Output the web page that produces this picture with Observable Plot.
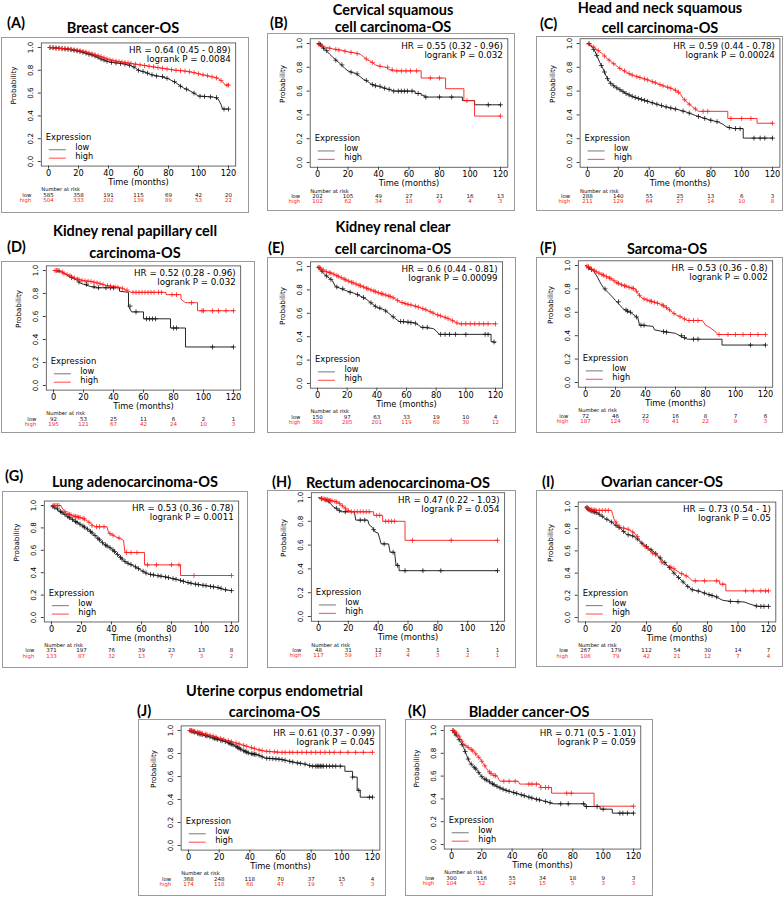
<!DOCTYPE html>
<html><head><meta charset="utf-8">
<script src="https://cdn.jsdelivr.net/npm/d3@7"></script>
<script src="https://cdn.jsdelivr.net/npm/@observablehq/plot@0.6"></script>
<style>
body{margin:0;background:#fff}
#root{position:relative;width:784px;height:898px;overflow:hidden;background:#fff}
.box{position:absolute;box-sizing:border-box;border:1px solid #9a9a9a;pointer-events:none}
.plotwrap{position:absolute}
#titles{position:absolute;left:0;top:0}
</style></head>
<body><div id="root"></div>
<script>
const xTicks = [0, 20, 40, 60, 80, 100, 120];
const yTicks = [0, 0.2, 0.4, 0.6, 0.8, 1];

// (A) Breast cancer
const breastStats = ["HR = 0.64 (0.45 - 0.89)", "logrank P = 0.0084"];
const breastRiskLow = [585, 358, 191, 115, 69, 42, 20];
const breastRiskHigh = [504, 333, 202, 139, 89, 53, 22];
const breastLow = [[0,1],[5,0.995],[10,0.99],[15,0.98],[20,0.968],[25,0.95],[30,0.93],[35,0.90],[40,0.875],[45,0.865],[50,0.857],[55,0.84],[58,0.82],[60,0.80],[65,0.78],[70,0.755],[75,0.745],[80,0.725],[85,0.69],[90,0.645],[95,0.615],[100,0.575],[105,0.57],[110,0.565],[113,0.55],[115,0.50],[116,0.46],[120,0.46]];
const breastLowCens = [[1,1],[3,0.998],[5,0.995],[7,0.993],[9,0.99],[11,0.988],[13,0.985],[15,0.98],[17,0.975],[19,0.97],[21,0.965],[23,0.958],[25,0.95],[27,0.94],[29,0.935],[31,0.925],[33,0.915],[35,0.90],[37,0.89],[39,0.88],[42,0.87],[45,0.865],[48,0.86],[51,0.855],[54,0.845],[57,0.83],[60,0.80],[63,0.79],[66,0.775],[69,0.76],[72,0.75],[76,0.745],[79,0.73],[84,0.70],[88,0.66],[92,0.635],[97,0.60],[101,0.572],[104,0.57],[108,0.567],[112,0.56],[117,0.46],[120,0.46]];
const breastHigh = [[0,1],[5,0.995],[10,0.99],[15,0.985],[20,0.975],[25,0.96],[30,0.94],[35,0.92],[40,0.895],[45,0.88],[50,0.87],[55,0.86],[60,0.85],[65,0.84],[70,0.83],[75,0.82],[80,0.81],[85,0.80],[90,0.795],[95,0.785],[100,0.77],[105,0.755],[110,0.74],[113,0.73],[116,0.70],[118,0.67],[120,0.67]];
const breastHighCens = [[1,1],[3,0.998],[5,0.995],[7,0.993],[9,0.99],[11,0.989],[13,0.987],[15,0.985],[17,0.98],[19,0.977],[21,0.972],[23,0.966],[25,0.96],[27,0.952],[29,0.944],[31,0.936],[33,0.928],[35,0.92],[37,0.91],[39,0.90],[41,0.892],[43,0.886],[45,0.88],[47,0.876],[49,0.872],[51,0.868],[53,0.864],[55,0.86],[58,0.854],[61,0.848],[64,0.842],[67,0.836],[70,0.83],[73,0.824],[76,0.818],[79,0.812],[82,0.806],[85,0.80],[88,0.797],[91,0.793],[94,0.787],[97,0.78],[100,0.77],[103,0.76],[106,0.752],[109,0.743],[112,0.733],[115,0.71],[119,0.67],[120,0.67]];

// (B) Cervical squamous cell carcinoma
const cervicalStats = ["HR = 0.55 (0.32 - 0.96)", "logrank P = 0.032"];
const cervicalRiskLow = [202, 105, 49, 27, 21, 16, 13];
const cervicalRiskHigh = [102, 62, 34, 18, 9, 4, 3];
const cervicalLow = [[0,1],[2,0.98],[5,0.95],[8,0.91],[10,0.885],[13,0.85],[15,0.83],[18,0.79],[20,0.77],[23,0.755],[25,0.75],[28,0.72],[30,0.70],[33,0.68],[35,0.66],[38,0.645],[40,0.64],[45,0.62],[48,0.61],[50,0.60],[64,0.60],[64,0.58],[68,0.58],[68,0.565],[70,0.565],[70,0.55],[95,0.55],[95,0.52],[103,0.52],[103,0.485],[120,0.485]];
const cervicalLowCens = [[1,1],[2,0.99],[4,0.96],[6,0.94],[12,0.86],[16,0.82],[22,0.76],[26,0.745],[32,0.69],[36,0.655],[38,0.645],[41,0.64],[44,0.625],[47,0.615],[50,0.60],[53,0.60],[55,0.60],[57,0.60],[59,0.60],[62,0.60],[66,0.58],[71,0.55],[80,0.55],[88,0.55],[112,0.485],[120,0.485]];
const cervicalHigh = [[0,1],[3,0.98],[5,0.97],[10,0.955],[15,0.945],[20,0.93],[25,0.92],[28,0.91],[30,0.89],[33,0.86],[35,0.85],[38,0.82],[40,0.81],[45,0.80],[47,0.78],[50,0.77],[68,0.77],[68,0.71],[84,0.71],[84,0.62],[96,0.62],[96,0.52],[103,0.52],[103,0.39],[120,0.39]];
const cervicalHighCens = [[1,0.99],[3,0.98],[8,0.96],[12,0.95],[14,0.945],[18,0.935],[22,0.925],[26,0.915],[32,0.87],[36,0.84],[41,0.81],[46,0.80],[49,0.78],[52,0.77],[55,0.77],[58,0.77],[61,0.77],[65,0.77],[74,0.71],[80,0.71],[98,0.52],[120,0.39]];

// (C) Head and neck squamous cell carcinoma
const headneckStats = ["HR = 0.59 (0.44 - 0.78)", "logrank P = 0.00024"];
const headneckRiskLow = [288, 140, 55, 25, 13, 6, 3];
const headneckRiskHigh = [211, 129, 64, 27, 14, 10, 8];
const headneckLow = [[0,1],[3,0.97],[5,0.93],[7,0.87],[8,0.84],[10,0.79],[12,0.73],[14,0.68],[16,0.655],[18,0.635],[20,0.62],[25,0.58],[30,0.55],[35,0.53],[40,0.51],[45,0.49],[50,0.47],[55,0.455],[60,0.44],[65,0.42],[70,0.395],[75,0.375],[80,0.355],[85,0.34],[88,0.32],[90,0.30],[95,0.285],[101,0.285],[101,0.205],[120,0.205]];
const headneckLowCens = [[1,1],[4,0.95],[6,0.90],[9,0.815],[11,0.76],[13,0.705],[15,0.665],[17,0.645],[19,0.627],[21,0.612],[23,0.596],[25,0.58],[27,0.568],[29,0.556],[31,0.546],[33,0.538],[35,0.53],[37,0.522],[39,0.514],[42,0.502],[45,0.49],[48,0.478],[51,0.467],[54,0.458],[57,0.449],[62,0.432],[66,0.415],[72,0.387],[76,0.371],[80,0.355],[84,0.343],[92,0.294],[96,0.285],[99,0.285],[108,0.205],[112,0.205],[115,0.205],[120,0.205]];
const headneckHigh = [[0,1],[3,0.98],[5,0.96],[8,0.93],[10,0.91],[13,0.87],[15,0.85],[18,0.82],[20,0.80],[23,0.775],[25,0.76],[28,0.74],[30,0.73],[35,0.71],[40,0.69],[45,0.665],[50,0.64],[55,0.62],[58,0.60],[60,0.58],[62,0.54],[65,0.50],[68,0.47],[70,0.45],[72,0.43],[91,0.43],[91,0.37],[110,0.37],[110,0.33],[120,0.33]];
const headneckHighCens = [[1,0.995],[4,0.97],[7,0.94],[11,0.895],[14,0.86],[17,0.83],[21,0.79],[24,0.77],[27,0.747],[29,0.735],[32,0.722],[34,0.714],[37,0.702],[39,0.694],[42,0.68],[44,0.67],[47,0.655],[49,0.645],[52,0.632],[54,0.624],[57,0.607],[59,0.59],[63,0.527],[66,0.49],[70,0.45],[75,0.43],[78,0.43],[93,0.37],[100,0.37],[106,0.37],[120,0.33]];

// (D) Kidney renal papillary cell carcinoma
const papillaryStats = ["HR = 0.52 (0.28 - 0.96)", "logrank P = 0.032"];
const papillaryRiskLow = [92, 53, 25, 11, 6, 2, 1];
const papillaryRiskHigh = [195, 121, 67, 42, 24, 10, 3];
const papillaryLow = [[0,1],[5,0.99],[8,0.97],[10,0.95],[13,0.93],[15,0.92],[18,0.89],[20,0.88],[25,0.86],[28,0.85],[44,0.85],[44,0.82],[50,0.81],[50,0.69],[52,0.64],[60,0.64],[60,0.58],[78,0.58],[78,0.50],[88,0.50],[88,0.335],[120,0.335]];
const papillaryLowCens = [[3,1],[12,0.94],[17,0.90],[22,0.88],[27,0.86],[30,0.85],[35,0.85],[38,0.85],[40,0.85],[51,0.69],[55,0.64],[62,0.58],[64,0.58],[66,0.58],[68,0.58],[80,0.50],[82,0.50],[106,0.335],[120,0.335]];
const papillaryHigh = [[0,1],[3,1],[5,0.99],[8,0.97],[10,0.96],[13,0.94],[15,0.93],[20,0.91],[25,0.905],[30,0.89],[35,0.87],[40,0.86],[45,0.85],[48,0.83],[52,0.81],[75,0.81],[75,0.79],[85,0.79],[85,0.75],[88,0.72],[96,0.72],[96,0.65],[120,0.65]];
const papillaryHighCens = [[1,1],[2,1],[4,0.995],[6,0.985],[7,0.975],[9,0.965],[11,0.955],[12,0.945],[14,0.935],[16,0.925],[17,0.92],[19,0.915],[21,0.91],[23,0.907],[25,0.905],[27,0.898],[29,0.892],[31,0.885],[33,0.878],[36,0.868],[38,0.864],[41,0.858],[43,0.854],[46,0.845],[49,0.83],[53,0.81],[55,0.81],[57,0.81],[59,0.81],[61,0.81],[63,0.81],[65,0.81],[67,0.81],[70,0.81],[72,0.81],[79,0.79],[82,0.79],[92,0.72],[99,0.65],[100,0.65],[106,0.65],[110,0.65],[115,0.65],[120,0.65]];

// (E) Kidney renal clear cell carcinoma
const clearStats = ["HR = 0.6 (0.44 - 0.81)", "logrank P = 0.00099"];
const clearRiskLow = [150, 97, 63, 33, 19, 10, 4];
const clearRiskHigh = [380, 285, 201, 119, 60, 30, 12];
const clearLow = [[0,1],[2,0.97],[5,0.93],[8,0.90],[10,0.88],[12,0.83],[15,0.815],[20,0.79],[25,0.77],[30,0.74],[33,0.72],[35,0.70],[38,0.67],[40,0.65],[45,0.63],[48,0.60],[50,0.58],[53,0.55],[55,0.53],[65,0.52],[68,0.50],[70,0.48],[78,0.47],[80,0.45],[82,0.42],[117,0.42],[117,0.36],[120,0.35]];
const clearLowCens = [[1,0.99],[3,0.96],[6,0.92],[9,0.89],[13,0.825],[17,0.81],[22,0.78],[27,0.76],[31,0.735],[36,0.69],[39,0.66],[42,0.645],[46,0.62],[51,0.57],[56,0.53],[58,0.53],[61,0.525],[63,0.52],[66,0.515],[71,0.48],[74,0.48],[83,0.42],[86,0.42],[89,0.42],[93,0.42],[100,0.42],[113,0.42],[115,0.42],[119,0.355]];
const clearHigh = [[0,1],[3,0.975],[5,0.96],[10,0.94],[15,0.91],[20,0.88],[25,0.855],[30,0.83],[35,0.805],[40,0.78],[45,0.76],[50,0.74],[53,0.72],[55,0.70],[60,0.68],[65,0.665],[70,0.645],[75,0.62],[80,0.59],[85,0.57],[90,0.545],[93,0.525],[95,0.51],[120,0.51]];
const clearHighCens = [[1,0.99],[2,0.985],[4,0.97],[6,0.955],[8,0.948],[9,0.944],[11,0.934],[13,0.922],[14,0.916],[16,0.904],[18,0.892],[19,0.886],[21,0.875],[23,0.865],[24,0.86],[26,0.85],[28,0.84],[29,0.835],[31,0.825],[33,0.815],[34,0.81],[36,0.80],[38,0.79],[39,0.785],[41,0.776],[43,0.768],[44,0.764],[46,0.756],[48,0.748],[49,0.744],[51,0.733],[54,0.71],[57,0.692],[59,0.684],[61,0.677],[63,0.671],[66,0.661],[68,0.653],[71,0.64],[73,0.63],[76,0.614],[78,0.602],[81,0.586],[83,0.578],[86,0.566],[88,0.555],[91,0.537],[94,0.518],[97,0.51],[100,0.51],[103,0.51],[106,0.51],[109,0.51],[112,0.51],[115,0.51],[120,0.51]];

// (F) Sarcoma
const sarcomaStats = ["HR = 0.53 (0.36 - 0.8)", "logrank P = 0.002"];
const sarcomaRiskLow = [72, 46, 22, 16, 8, 7, 6];
const sarcomaRiskHigh = [187, 124, 70, 41, 22, 9, 3];
const sarcomaLow = [[0,1],[2,0.98],[3,0.97],[5,0.96],[7,0.92],[8,0.90],[10,0.85],[12,0.81],[15,0.77],[18,0.73],[20,0.70],[23,0.66],[25,0.63],[28,0.61],[30,0.60],[33,0.57],[35,0.55],[36,0.49],[45,0.48],[46,0.45],[50,0.44],[55,0.43],[60,0.42],[65,0.385],[68,0.37],[91,0.37],[91,0.32],[120,0.32]];
const sarcomaLowCens = [[2,0.98],[4,0.965],[13,0.80],[22,0.69],[27,0.62],[28,0.61],[30,0.60],[34,0.56],[37,0.49],[39,0.49],[52,0.435],[54,0.43],[64,0.40],[66,0.385],[72,0.37],[75,0.37],[110,0.32],[120,0.32]];
const sarcomaHigh = [[0,1],[3,0.98],[5,0.96],[8,0.94],[10,0.93],[13,0.91],[15,0.90],[18,0.88],[20,0.86],[23,0.84],[25,0.83],[28,0.82],[30,0.81],[33,0.80],[35,0.76],[37,0.73],[38,0.72],[42,0.70],[45,0.69],[50,0.67],[53,0.65],[55,0.63],[58,0.60],[60,0.58],[62,0.57],[65,0.55],[68,0.53],[78,0.53],[80,0.49],[83,0.47],[85,0.45],[87,0.43],[88,0.41],[120,0.41]];
const sarcomaHighCens = [[1,0.995],[2,0.99],[4,0.97],[6,0.955],[7,0.947],[9,0.935],[11,0.923],[12,0.917],[14,0.904],[16,0.893],[17,0.887],[19,0.87],[21,0.853],[22,0.847],[24,0.836],[26,0.827],[27,0.823],[29,0.813],[31,0.807],[32,0.803],[34,0.78],[36,0.745],[39,0.715],[41,0.705],[43,0.697],[44,0.693],[46,0.686],[48,0.678],[51,0.663],[52,0.657],[54,0.64],[56,0.62],[59,0.59],[63,0.563],[66,0.543],[69,0.53],[72,0.53],[75,0.53],[89,0.41],[95,0.41],[100,0.41],[105,0.41],[110,0.41],[115,0.41],[120,0.41]];

// (G) Lung adenocarcinoma
const lungStats = ["HR = 0.53 (0.36 - 0.78)", "logrank P = 0.0011"];
const lungRiskLow = [371, 197, 76, 39, 23, 13, 8];
const lungRiskHigh = [133, 87, 32, 13, 7, 3, 2];
const lungLow = [[0,1],[5,0.955],[10,0.91],[15,0.865],[20,0.825],[25,0.78],[30,0.72],[35,0.655],[40,0.615],[45,0.55],[48,0.51],[50,0.49],[55,0.46],[60,0.42],[64,0.39],[70,0.375],[75,0.365],[80,0.35],[85,0.335],[90,0.315],[95,0.30],[100,0.29],[105,0.28],[110,0.27],[115,0.25],[117,0.245],[120,0.24]];
const lungLowCens = [[1,0.99],[2,0.985],[4,0.97],[6,0.946],[7,0.937],[9,0.919],[11,0.90],[12,0.892],[14,0.874],[16,0.857],[17,0.849],[19,0.833],[21,0.816],[22,0.807],[24,0.789],[26,0.768],[27,0.756],[29,0.732],[31,0.707],[32,0.694],[34,0.668],[36,0.647],[37,0.639],[39,0.623],[41,0.602],[42,0.589],[44,0.563],[46,0.537],[47,0.523],[49,0.50],[51,0.484],[53,0.472],[56,0.452],[58,0.436],[61,0.413],[63,0.397],[66,0.385],[68,0.38],[71,0.373],[73,0.369],[76,0.362],[78,0.356],[81,0.347],[83,0.341],[86,0.331],[88,0.323],[91,0.312],[93,0.306],[96,0.298],[98,0.294],[101,0.288],[103,0.284],[106,0.278],[108,0.274],[111,0.268],[113,0.26],[116,0.248],[120,0.24]];
const lungHigh = [[0,1],[6,1],[8,0.96],[10,0.93],[14,0.91],[20,0.89],[24,0.86],[26,0.84],[29,0.81],[37,0.81],[38,0.76],[40,0.74],[43,0.72],[48,0.69],[49,0.58],[62,0.58],[62,0.47],[86,0.47],[86,0.375],[120,0.375]];
const lungHighCens = [[1,1],[2,1],[3,1],[4,1],[5,1],[9,0.945],[11,0.925],[12,0.92],[13,0.915],[15,0.905],[16,0.90],[17,0.90],[18,0.895],[19,0.893],[21,0.885],[22,0.88],[25,0.85],[27,0.82],[30,0.81],[32,0.81],[35,0.81],[39,0.75],[41,0.735],[45,0.71],[50,0.58],[53,0.58],[57,0.58],[64,0.47],[70,0.47],[80,0.47],[85,0.47],[95,0.375],[120,0.375]];

// (H) Rectum adenocarcinoma
const rectumStats = ["HR = 0.47 (0.22 - 1.03)", "logrank P = 0.054"];
const rectumRiskLow = [48, 31, 12, 3, 1, 1, 1];
const rectumRiskHigh = [117, 59, 17, 4, 3, 2, 1];
const rectumLow = [[0,1],[3,0.99],[5,0.98],[8,0.95],[10,0.92],[13,0.90],[15,0.88],[24,0.88],[25,0.81],[33,0.81],[34,0.77],[36,0.75],[38,0.71],[40,0.70],[42,0.61],[47,0.61],[48,0.54],[51,0.54],[52,0.43],[54,0.43],[54,0.385],[120,0.385]];
const rectumLowCens = [[2,0.99],[5,0.98],[7,0.97],[12,0.91],[14,0.89],[18,0.88],[28,0.81],[31,0.81],[37,0.73],[44,0.61],[50,0.54],[53,0.43],[58,0.385],[70,0.385],[82,0.385],[120,0.385]];
const rectumHigh = [[0,1],[3,0.99],[6,0.98],[10,0.97],[13,0.96],[15,0.94],[17,0.92],[19,0.90],[21,0.88],[37,0.88],[37,0.85],[43,0.85],[43,0.80],[58,0.80],[58,0.64],[120,0.64]];
const rectumHighCens = [[2,0.99],[3,0.99],[4,0.985],[5,0.98],[6,0.98],[7,0.977],[8,0.975],[9,0.972],[11,0.967],[12,0.963],[14,0.95],[16,0.93],[18,0.91],[20,0.89],[22,0.88],[24,0.88],[26,0.88],[28,0.88],[30,0.88],[32,0.88],[34,0.88],[39,0.85],[41,0.85],[45,0.80],[47,0.80],[49,0.80],[51,0.80],[63,0.64],[89,0.64],[120,0.64]];

// (I) Ovarian cancer
const ovarianStats = ["HR = 0.73 (0.54 - 1)", "logrank P = 0.05"];
const ovarianRiskLow = [267, 179, 112, 54, 30, 14, 7];
const ovarianRiskHigh = [106, 79, 42, 21, 12, 7, 4];
const ovarianLow = [[0,1],[2,0.97],[5,0.955],[8,0.94],[10,0.92],[13,0.89],[16,0.87],[20,0.83],[23,0.80],[27,0.75],[30,0.74],[33,0.72],[36,0.68],[38,0.66],[42,0.62],[45,0.59],[48,0.55],[51,0.51],[55,0.45],[58,0.40],[61,0.36],[64,0.32],[67,0.28],[70,0.25],[75,0.235],[80,0.21],[85,0.19],[90,0.155],[95,0.145],[104,0.14],[108,0.12],[113,0.10],[120,0.10]];
const ovarianLowCens = [[1,0.99],[1.5,0.98],[2,0.975],[3,0.965],[4,0.96],[5,0.955],[6,0.95],[7,0.945],[9,0.93],[11,0.912],[14,0.885],[17,0.86],[20,0.83],[22,0.81],[25,0.775],[28,0.745],[31,0.735],[34,0.707],[37,0.67],[40,0.64],[43,0.61],[46,0.578],[49,0.538],[52,0.495],[55,0.45],[58,0.40],[61,0.36],[64,0.32],[67,0.28],[70,0.25],[74,0.238],[78,0.22],[81,0.206],[83,0.198],[86,0.186],[95,0.145],[100,0.142],[112,0.104],[115,0.10],[117,0.10],[120,0.10]];
const ovarianHigh = [[0,1],[3,0.97],[8,0.965],[17,0.965],[18,0.92],[19,0.875],[21,0.84],[23,0.81],[27,0.80],[30,0.78],[33,0.75],[35,0.71],[37,0.66],[40,0.63],[43,0.59],[47,0.56],[49,0.52],[51,0.48],[55,0.46],[60,0.42],[62,0.40],[64,0.39],[68,0.36],[70,0.33],[88,0.33],[88,0.30],[92,0.30],[92,0.24],[120,0.24]];
const ovarianHighCens = [[1,0.99],[2,0.98],[3,0.97],[4,0.97],[5,0.968],[6,0.967],[7,0.966],[9,0.965],[11,0.965],[13,0.965],[15,0.965],[20,0.86],[22,0.825],[25,0.805],[28,0.795],[31,0.77],[34,0.73],[39,0.64],[41,0.62],[44,0.58],[46,0.565],[50,0.50],[56,0.455],[58,0.44],[63,0.395],[66,0.375],[72,0.33],[78,0.33],[86,0.33],[90,0.30],[105,0.24],[110,0.24],[115,0.24],[118,0.24],[120,0.24]];

// (J) Uterine corpus endometrial carcinoma
const uterineStats = ["HR = 0.61 (0.37 - 0.99)", "logrank P = 0.045"];
const uterineRiskLow = [368, 248, 118, 70, 37, 15, 4];
const uterineRiskHigh = [174, 118, 68, 47, 19, 5, 3];
const uterineLow = [[0,1],[5,0.98],[10,0.96],[15,0.94],[20,0.92],[25,0.90],[30,0.87],[35,0.83],[40,0.80],[45,0.79],[50,0.76],[55,0.755],[60,0.75],[65,0.735],[70,0.72],[75,0.71],[78,0.70],[80,0.69],[102,0.69],[102,0.645],[107,0.645],[107,0.595],[110,0.595],[110,0.48],[112,0.48],[112,0.42],[120,0.42]];
const uterineLowCens = [[1,1],[2,0.995],[3,0.99],[4,0.985],[6,0.975],[7,0.97],[8,0.968],[9,0.964],[11,0.956],[12,0.952],[14,0.944],[16,0.936],[17,0.932],[18,0.928],[19,0.924],[21,0.916],[22,0.912],[24,0.904],[26,0.894],[27,0.888],[28,0.882],[29,0.876],[31,0.862],[32,0.854],[33,0.846],[34,0.838],[36,0.824],[37,0.818],[38,0.812],[39,0.806],[41,0.798],[42,0.796],[43,0.794],[44,0.792],[46,0.784],[48,0.772],[51,0.759],[53,0.757],[55,0.755],[57,0.753],[59,0.751],[61,0.747],[63,0.741],[66,0.732],[68,0.726],[71,0.718],[73,0.714],[76,0.708],[79,0.695],[81,0.69],[83,0.69],[84,0.69],[85,0.69],[86,0.69],[87,0.69],[88,0.69],[90,0.69],[92,0.69],[94,0.69],[96,0.69],[99,0.69],[107,0.595],[111,0.48],[118,0.42],[120,0.42]];
const uterineHigh = [[0,1],[5,0.99],[10,0.97],[15,0.955],[20,0.935],[25,0.915],[30,0.895],[35,0.875],[40,0.855],[45,0.835],[48,0.825],[50,0.82],[55,0.815],[60,0.81],[120,0.81]];
const uterineHighCens = [[1,1],[2,0.998],[3,0.995],[4,0.993],[6,0.987],[7,0.983],[8,0.979],[9,0.975],[11,0.967],[12,0.964],[14,0.958],[16,0.951],[18,0.943],[21,0.931],[23,0.923],[26,0.911],[28,0.903],[31,0.891],[33,0.883],[36,0.871],[38,0.863],[41,0.851],[43,0.843],[46,0.831],[48,0.825],[51,0.819],[53,0.817],[56,0.814],[58,0.812],[61,0.81],[63,0.81],[66,0.81],[68,0.81],[71,0.81],[74,0.81],[77,0.81],[80,0.81],[83,0.81],[86,0.81],[89,0.81],[92,0.81],[95,0.81],[99,0.81],[104,0.81],[109,0.81],[114,0.81],[120,0.81]];

// (K) Bladder cancer
const bladderStats = ["HR = 0.71 (0.5 - 1.01)", "logrank P = 0.059"];
const bladderRiskLow = [300, 116, 55, 34, 18, 9, 3];
const bladderRiskHigh = [104, 52, 24, 15, 5, 3, 3];
const bladderLow = [[0,1],[2,0.98],[4,0.94],[6,0.90],[8,0.85],[10,0.78],[12,0.72],[14,0.69],[17,0.65],[19,0.61],[21,0.58],[24,0.56],[26,0.54],[30,0.51],[33,0.49],[37,0.47],[40,0.46],[45,0.44],[50,0.42],[55,0.40],[60,0.385],[64,0.37],[67,0.357],[88,0.357],[88,0.333],[98,0.333],[98,0.31],[106,0.31],[106,0.275],[120,0.275]];
const bladderLowCens = [[1,1],[2,0.98],[3,0.96],[5,0.92],[7,0.875],[9,0.815],[11,0.75],[13,0.705],[15,0.677],[16,0.663],[18,0.63],[20,0.595],[22,0.573],[23,0.567],[25,0.55],[27,0.533],[28,0.525],[30,0.51],[32,0.497],[34,0.485],[36,0.475],[38,0.467],[41,0.456],[43,0.448],[46,0.436],[48,0.428],[51,0.416],[53,0.408],[56,0.397],[58,0.391],[62,0.378],[65,0.367],[72,0.357],[77,0.357],[87,0.357],[89,0.333],[96,0.333],[100,0.31],[111,0.275],[113,0.275],[116,0.275],[120,0.275]];
const bladderHigh = [[0,1],[2,0.99],[4,0.97],[6,0.93],[8,0.88],[10,0.86],[12.5,0.84],[15,0.81],[17,0.78],[19,0.75],[21,0.71],[23,0.67],[24,0.65],[27,0.61],[30,0.60],[32,0.555],[44,0.555],[45,0.53],[58,0.53],[59,0.50],[66,0.50],[66,0.45],[94,0.45],[94,0.336],[120,0.336]];
const bladderHighCens = [[1,1],[2,0.99],[3,0.98],[5,0.95],[7,0.905],[9,0.87],[11,0.852],[13,0.834],[14,0.822],[16,0.795],[18,0.765],[20,0.73],[22,0.69],[25,0.637],[26,0.623],[28,0.607],[29,0.603],[34.5,0.555],[38,0.555],[42,0.555],[51,0.53],[53,0.53],[56,0.53],[59,0.50],[62,0.50],[64,0.50],[76,0.45],[79,0.45],[120,0.336]];

const panels = [
  {key:"A", label:"(A)", title:["Breast cancer-OS"], stats:breastStats, low:breastLow, lowCens:breastLowCens, high:breastHigh, highCens:breastHighCens, riskLow:breastRiskLow, riskHigh:breastRiskHigh},
  {key:"B", label:"(B)", title:["Cervical squamous","cell carcinoma-OS"], stats:cervicalStats, low:cervicalLow, lowCens:cervicalLowCens, high:cervicalHigh, highCens:cervicalHighCens, riskLow:cervicalRiskLow, riskHigh:cervicalRiskHigh},
  {key:"C", label:"(C)", title:["Head and neck squamous","cell carcinoma-OS"], stats:headneckStats, low:headneckLow, lowCens:headneckLowCens, high:headneckHigh, highCens:headneckHighCens, riskLow:headneckRiskLow, riskHigh:headneckRiskHigh},
  {key:"D", label:"(D)", title:["Kidney renal papillary cell","carcinoma-OS"], stats:papillaryStats, low:papillaryLow, lowCens:papillaryLowCens, high:papillaryHigh, highCens:papillaryHighCens, riskLow:papillaryRiskLow, riskHigh:papillaryRiskHigh},
  {key:"E", label:"(E)", title:["Kidney renal clear","cell carcinoma-OS"], stats:clearStats, low:clearLow, lowCens:clearLowCens, high:clearHigh, highCens:clearHighCens, riskLow:clearRiskLow, riskHigh:clearRiskHigh},
  {key:"F", label:"(F)", title:["Sarcoma-OS"], stats:sarcomaStats, low:sarcomaLow, lowCens:sarcomaLowCens, high:sarcomaHigh, highCens:sarcomaHighCens, riskLow:sarcomaRiskLow, riskHigh:sarcomaRiskHigh},
  {key:"G", label:"(G)", title:["Lung adenocarcinoma-OS"], stats:lungStats, low:lungLow, lowCens:lungLowCens, high:lungHigh, highCens:lungHighCens, riskLow:lungRiskLow, riskHigh:lungRiskHigh},
  {key:"H", label:"(H)", title:["Rectum adenocarcinoma-OS"], stats:rectumStats, low:rectumLow, lowCens:rectumLowCens, high:rectumHigh, highCens:rectumHighCens, riskLow:rectumRiskLow, riskHigh:rectumRiskHigh},
  {key:"I", label:"(I)", title:["Ovarian cancer-OS"], stats:ovarianStats, low:ovarianLow, lowCens:ovarianLowCens, high:ovarianHigh, highCens:ovarianHighCens, riskLow:ovarianRiskLow, riskHigh:ovarianRiskHigh},
  {key:"J", label:"(J)", title:["Uterine corpus endometrial","carcinoma-OS"], stats:uterineStats, low:uterineLow, lowCens:uterineLowCens, high:uterineHigh, highCens:uterineHighCens, riskLow:uterineRiskLow, riskHigh:uterineRiskHigh},
  {key:"K", label:"(K)", title:["Bladder cancer-OS"], stats:bladderStats, low:bladderLow, lowCens:bladderLowCens, high:bladderHigh, highCens:bladderHighCens, riskLow:bladderRiskLow, riskHigh:bladderRiskHigh}
];

// layout (pixel geometry of each panel)
const layout = {
  A:{box:[1,37,248,176], x0:48, x120:228, y1:47, y0:161, tx:123, ty:[33.3], lx:7, ly:28.3},
  B:{box:[267,33,248,178], x0:317, x120:500, y1:43, y0:162, tx:393, ty:[14.5,31.7], lx:270, ly:28.3},
  C:{box:[536,36,247,175], x0:587, x120:772, y1:43, y0:162, tx:660, ty:[13,32.5], lx:540, ly:28.5},
  D:{box:[1,261,254,172], x0:53, x120:233, y1:270, y0:385, tx:135, ty:[235.7,257.7], lx:7, ly:252.3},
  E:{box:[267,257,249,176], x0:317, x120:495, y1:266, y0:383, tx:393, ty:[232.3,254.3], lx:268, ly:253.3},
  F:{box:[536,257,247,176], x0:585, x120:765, y1:265, y0:382, tx:667, ty:[254], lx:540, ly:253},
  G:{box:[2,491,246,177], x0:51, x120:231, y1:505, y0:617, tx:135, ty:[487.3], lx:5, ly:480.7},
  H:{box:[267,490,249,178], x0:318, x120:497, y1:497, y0:616, tx:398, ty:[488.3], lx:272, ly:487},
  I:{box:[536,490,247,177], x0:585, x120:768, y1:506, y0:617, tx:662, ty:[487.3], lx:542, ly:487},
  J:{box:[138,719,248,177], x0:188, x120:372, y1:730, y0:845, tx:274.5, ty:[696,717.3], lx:137, ly:715.7},
  K:{box:[405,719,248,177], x0:451, x120:633, y1:730, y0:844, tx:529, ty:[717], lx:408, ly:715.7}
};

const root = d3.select("#root");
const RED = "#ff1a1a";
const BLACK = "#111";

for (const p of panels) {
  const L = layout[p.key];
  const [bx, by, bw, bh] = L.box;
  const ppm = (L.x120 - L.x0) / 120, ppu = L.y0 - L.y1;
  const fl = L.x0 - 4.8 * ppm, fr = L.x120 + 4.8 * ppm;
  const ft = L.y1 - 0.04 * ppu, fb = L.y0 + 0.04 * ppu;
  const mL = fl - bx, mR = bx + bw - fr, mT = ft - by, mB = by + bh - fb;
  const xy = {x: d => d[0], y: d => d[1]};
  const chart = Plot.plot({
    width: bw, height: bh,
    marginLeft: mL, marginRight: mR, marginTop: mT, marginBottom: mB,
    x: {domain: [-4.8, 124.8]},
    y: {domain: [-0.04, 1.04]},
    style: {fontFamily: "DejaVu Sans", background: "transparent", overflow: "visible"},
    marks: [
      Plot.frame({stroke: "#444", strokeWidth: 0.8}),
      Plot.axisX({ticks: xTicks, tickSize: 3, tickPadding: 1.2, fontSize: 8.2, label: null, tickFormat: d => String(d), stroke: "#444"}),
      Plot.axisY({ticks: yTicks, tickSize: 3, tickPadding: 5, tickRotate: -90, fontSize: 7.2, label: null, tickFormat: d => d.toFixed(1), stroke: "#444"}),
      Plot.text(["Probability"], {frameAnchor: "left", dx: -27.5, rotate: -90, fontSize: 7.2}),
      Plot.text(["Time (months)"], {frameAnchor: "bottom", dy: 18.8, fontSize: 8.3}),
      Plot.text(["Number at risk"], {frameAnchor: "bottom-left", dy: 25.3, textAnchor: "start", fontSize: 5.2}),
      Plot.text(["low"], {frameAnchor: "bottom-left", dx: -10, dy: 30.5, textAnchor: "end", fontSize: 5.3, fill: BLACK}),
      Plot.text(["high"], {frameAnchor: "bottom-left", dx: -10, dy: 36.2, textAnchor: "end", fontSize: 5.3, fill: RED}),
      Plot.text(p.riskLow, {x: (d, i) => xTicks[i], text: d => String(d), frameAnchor: "bottom", dy: 30.5, fontSize: 5.5, fill: BLACK}),
      Plot.text(p.riskHigh, {x: (d, i) => xTicks[i], text: d => String(d), frameAnchor: "bottom", dy: 36.2, fontSize: 5.5, fill: RED}),
      Plot.text([p.stats.join("\n")], {frameAnchor: "top-right", dx: -5, dy: 4.2, textAnchor: "end", lineAnchor: "top", lineHeight: 1.0, fontSize: 8.7}),
      Plot.text(["Expression"], {frameAnchor: "bottom-left", dx: 4.5, dy: -25.8, textAnchor: "start", fontSize: 8.4}),
      Plot.text(["low"], {frameAnchor: "bottom-left", dx: 34, dy: -15.8, textAnchor: "start", fontSize: 8.2}),
      Plot.text(["high"], {frameAnchor: "bottom-left", dx: 34, dy: -7.4, textAnchor: "start", fontSize: 8.2}),
      Plot.line(p.low, {...xy, stroke: BLACK, strokeWidth: 0.9}),
      Plot.line(p.high, {...xy, stroke: RED, strokeWidth: 0.9}),
      Plot.dot(p.lowCens, {...xy, symbol: "plus", r: 1.7, stroke: BLACK, strokeWidth: 0.75}),
      Plot.dot(p.highCens, {...xy, symbol: "plus", r: 1.7, stroke: RED, strokeWidth: 0.75})
    ]
  });
  // legend swatches
  const s = d3.select(chart);
  const fbS = bh - mB;
  s.append("line").attr("x1", mL + 8).attr("x2", mL + 25).attr("y1", fbS - 15.8).attr("y2", fbS - 15.8).attr("stroke", "#555").attr("stroke-width", 0.8);
  s.append("line").attr("x1", mL + 8).attr("x2", mL + 25).attr("y1", fbS - 7.4).attr("y2", fbS - 7.4).attr("stroke", RED).attr("stroke-width", 0.8);

  const wrap = root.append("div").attr("class", "plotwrap")
    .style("left", bx + "px").style("top", by + "px").style("width", bw + "px").style("height", bh + "px");
  wrap.node().appendChild(chart);
  root.append("div").attr("class", "box")
    .style("left", bx + "px").style("top", by + "px").style("width", bw + "px").style("height", bh + "px");
}

const overlay = root.append("svg").attr("id", "titles").attr("width", 784).attr("height", 898)
  .style("pointer-events", "none");
for (const p of panels) {
  const L = layout[p.key];
  p.title.forEach((t, i) => {
    overlay.append("text").attr("x", L.tx).attr("y", L.ty[i]).attr("text-anchor", "middle")
      .attr("font-family", "Lato, 'Open Sans', sans-serif").attr("font-weight", 700).attr("font-size", 14.5)
      .attr("fill", "#000").text(t);
  });
  overlay.append("text").attr("x", L.lx).attr("y", L.ly).attr("text-anchor", "start")
    .attr("font-family", "Lato, 'Open Sans', sans-serif").attr("font-weight", 700).attr("font-size", 14.5)
    .attr("fill", "#000").text(p.label);
}
</script>
</body></html>
